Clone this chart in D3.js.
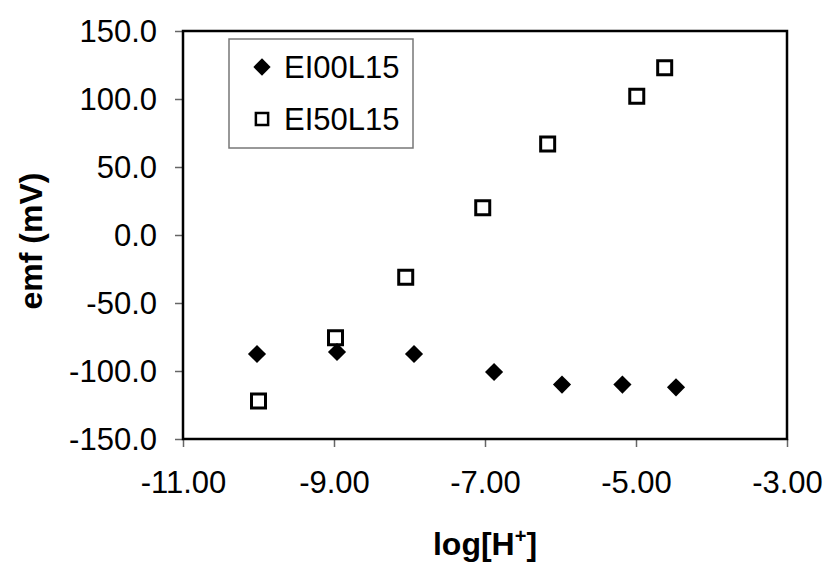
<!DOCTYPE html>
<html>
<head>
<meta charset="utf-8">
<script src="https://cdn.jsdelivr.net/npm/d3@7"></script>
<style>
  body { margin: 0; background: #fff; }
  text { font-family: "Liberation Sans", Arial, sans-serif; }
</style>
</head>
<body>
<div id="chart"></div>
<script>
// data
var seriesNames = ["EI00L15", "EI50L15"];
var logH00 = [-10.02, -8.96, -7.94, -6.88, -5.98, -5.18, -4.47];
var emf00  = [-87.5, -86, -87.5, -100.7, -110, -110, -112];
var logH50 = [-10.0, -8.98, -8.05, -7.03, -6.17, -4.99, -4.62];
var emf50  = [-122, -75.5, -31, 20, 67, 102, 123];
var xTicks = [-11, -9, -7, -5, -3];
var yTicks = [-150, -100, -50, 0, 50, 100, 150];

var margin = {top: 31, right: 43, bottom: 128, left: 183},
    width = 830 - margin.left - margin.right,
    height = 567 - margin.top - margin.bottom;

var x = d3.scaleLinear().domain([-11, -3]).range([0, width]);
var y = d3.scaleLinear().domain([-150, 150]).range([height, 0]);

var svg = d3.select("#chart").append("svg")
    .attr("width", 830)
    .attr("height", 567)
  .append("g")
    .attr("transform", "translate(" + margin.left + "," + margin.top + ")");

// axes
var xAxis = d3.axisBottom(x).tickValues(xTicks).tickSize(8).tickSizeOuter(0)
    .tickFormat(function(d) { return d.toFixed(2); });
var yAxis = d3.axisLeft(y).tickValues(yTicks).tickSize(8).tickSizeOuter(0)
    .tickFormat(function(d) { return d.toFixed(1); });

var gx = svg.append("g")
    .attr("transform", "translate(0," + height + ")")
    .call(xAxis);
gx.select(".domain").remove();
gx.selectAll(".tick line").attr("stroke", "#666").attr("stroke-width", 1.5);
gx.selectAll(".tick text")
    .attr("y", 32)
    .attr("dy", "0.71em")
    .style("font-size", "31px")
    .attr("fill", "#000");

var gy = svg.append("g").call(yAxis);
gy.select(".domain").remove();
gy.selectAll(".tick line").attr("stroke", "#666").attr("stroke-width", 1.5);
gy.selectAll(".tick text")
    .attr("x", -26)
    .attr("dy", "0.35em")
    .style("font-size", "31px")
    .attr("fill", "#000");

// plot frame
svg.append("rect")
    .attr("width", width)
    .attr("height", height)
    .attr("fill", "none")
    .attr("stroke", "#000")
    .attr("stroke-width", 2.5);

// axis titles
svg.append("text")
    .attr("transform", "rotate(-90)")
    .attr("x", -(y(0) + 6))
    .attr("y", -141)
    .style("text-anchor", "middle")
    .style("font-size", "32px")
    .style("font-weight", "bold")
    .text("emf (mV)");

var xt = svg.append("text")
    .attr("x", x(-7))
    .attr("y", 524)
    .style("text-anchor", "middle")
    .style("font-size", "32px")
    .style("font-weight", "bold");
xt.append("tspan").text("log[H");
xt.append("tspan").attr("dy", -12).style("font-size", "20px").text("+");
xt.append("tspan").attr("dy", 12).text("]");

var diamond = d3.symbol().type(d3.symbolDiamond2 || d3.symbolDiamond).size(210);

function drawDiamonds(g, xs, ys) {
  g.selectAll("path.d")
      .data(xs.map(function(v, i) { return [v, ys[i]]; }))
    .enter().append("path")
      .attr("class", "d")
      .attr("d", diamond)
      .attr("transform", function(d) { return "translate(" + x(d[0]) + "," + y(d[1]) + ")"; })
      .attr("fill", "#000");
}
function drawSquares(g, xs, ys) {
  g.selectAll("path.s")
      .data(xs.map(function(v, i) { return [v, ys[i]]; }))
    .enter().append("path")
      .attr("class", "s")
      .attr("d", d3.symbol().type(d3.symbolSquare).size(196))
      .attr("transform", function(d) { return "translate(" + x(d[0]) + "," + y(d[1]) + ")"; })
      .attr("fill", "none")
      .attr("stroke", "#000")
      .attr("stroke-width", 3);
}

drawDiamonds(svg.append("g"), logH00, emf00);
drawSquares(svg.append("g"), logH50, emf50);

// legend
var leg = svg.append("g").attr("transform", "translate(" + (229 - margin.left) + "," + (39 - margin.top) + ")");
leg.append("rect")
    .attr("width", 184)
    .attr("height", 109)
    .attr("fill", "#fff")
    .attr("stroke", "#777")
    .attr("stroke-width", 1.5);
leg.append("path")
    .attr("d", d3.symbol().type(d3.symbolDiamond2 || d3.symbolDiamond).size(190))
    .attr("transform", "translate(33,28)")
    .attr("fill", "#000");
leg.append("path")
    .attr("d", d3.symbol().type(d3.symbolSquare).size(150))
    .attr("transform", "translate(33,80)")
    .attr("fill", "none")
    .attr("stroke", "#000")
    .attr("stroke-width", 2.5);
leg.selectAll("text.l")
    .data(seriesNames)
  .enter().append("text")
    .attr("class", "l")
    .attr("x", 55)
    .attr("y", function(d, i) { return 39 + i * 52; })
    .style("font-size", "31px")
    .text(function(d) { return d; });
</script>
</body>
</html>
